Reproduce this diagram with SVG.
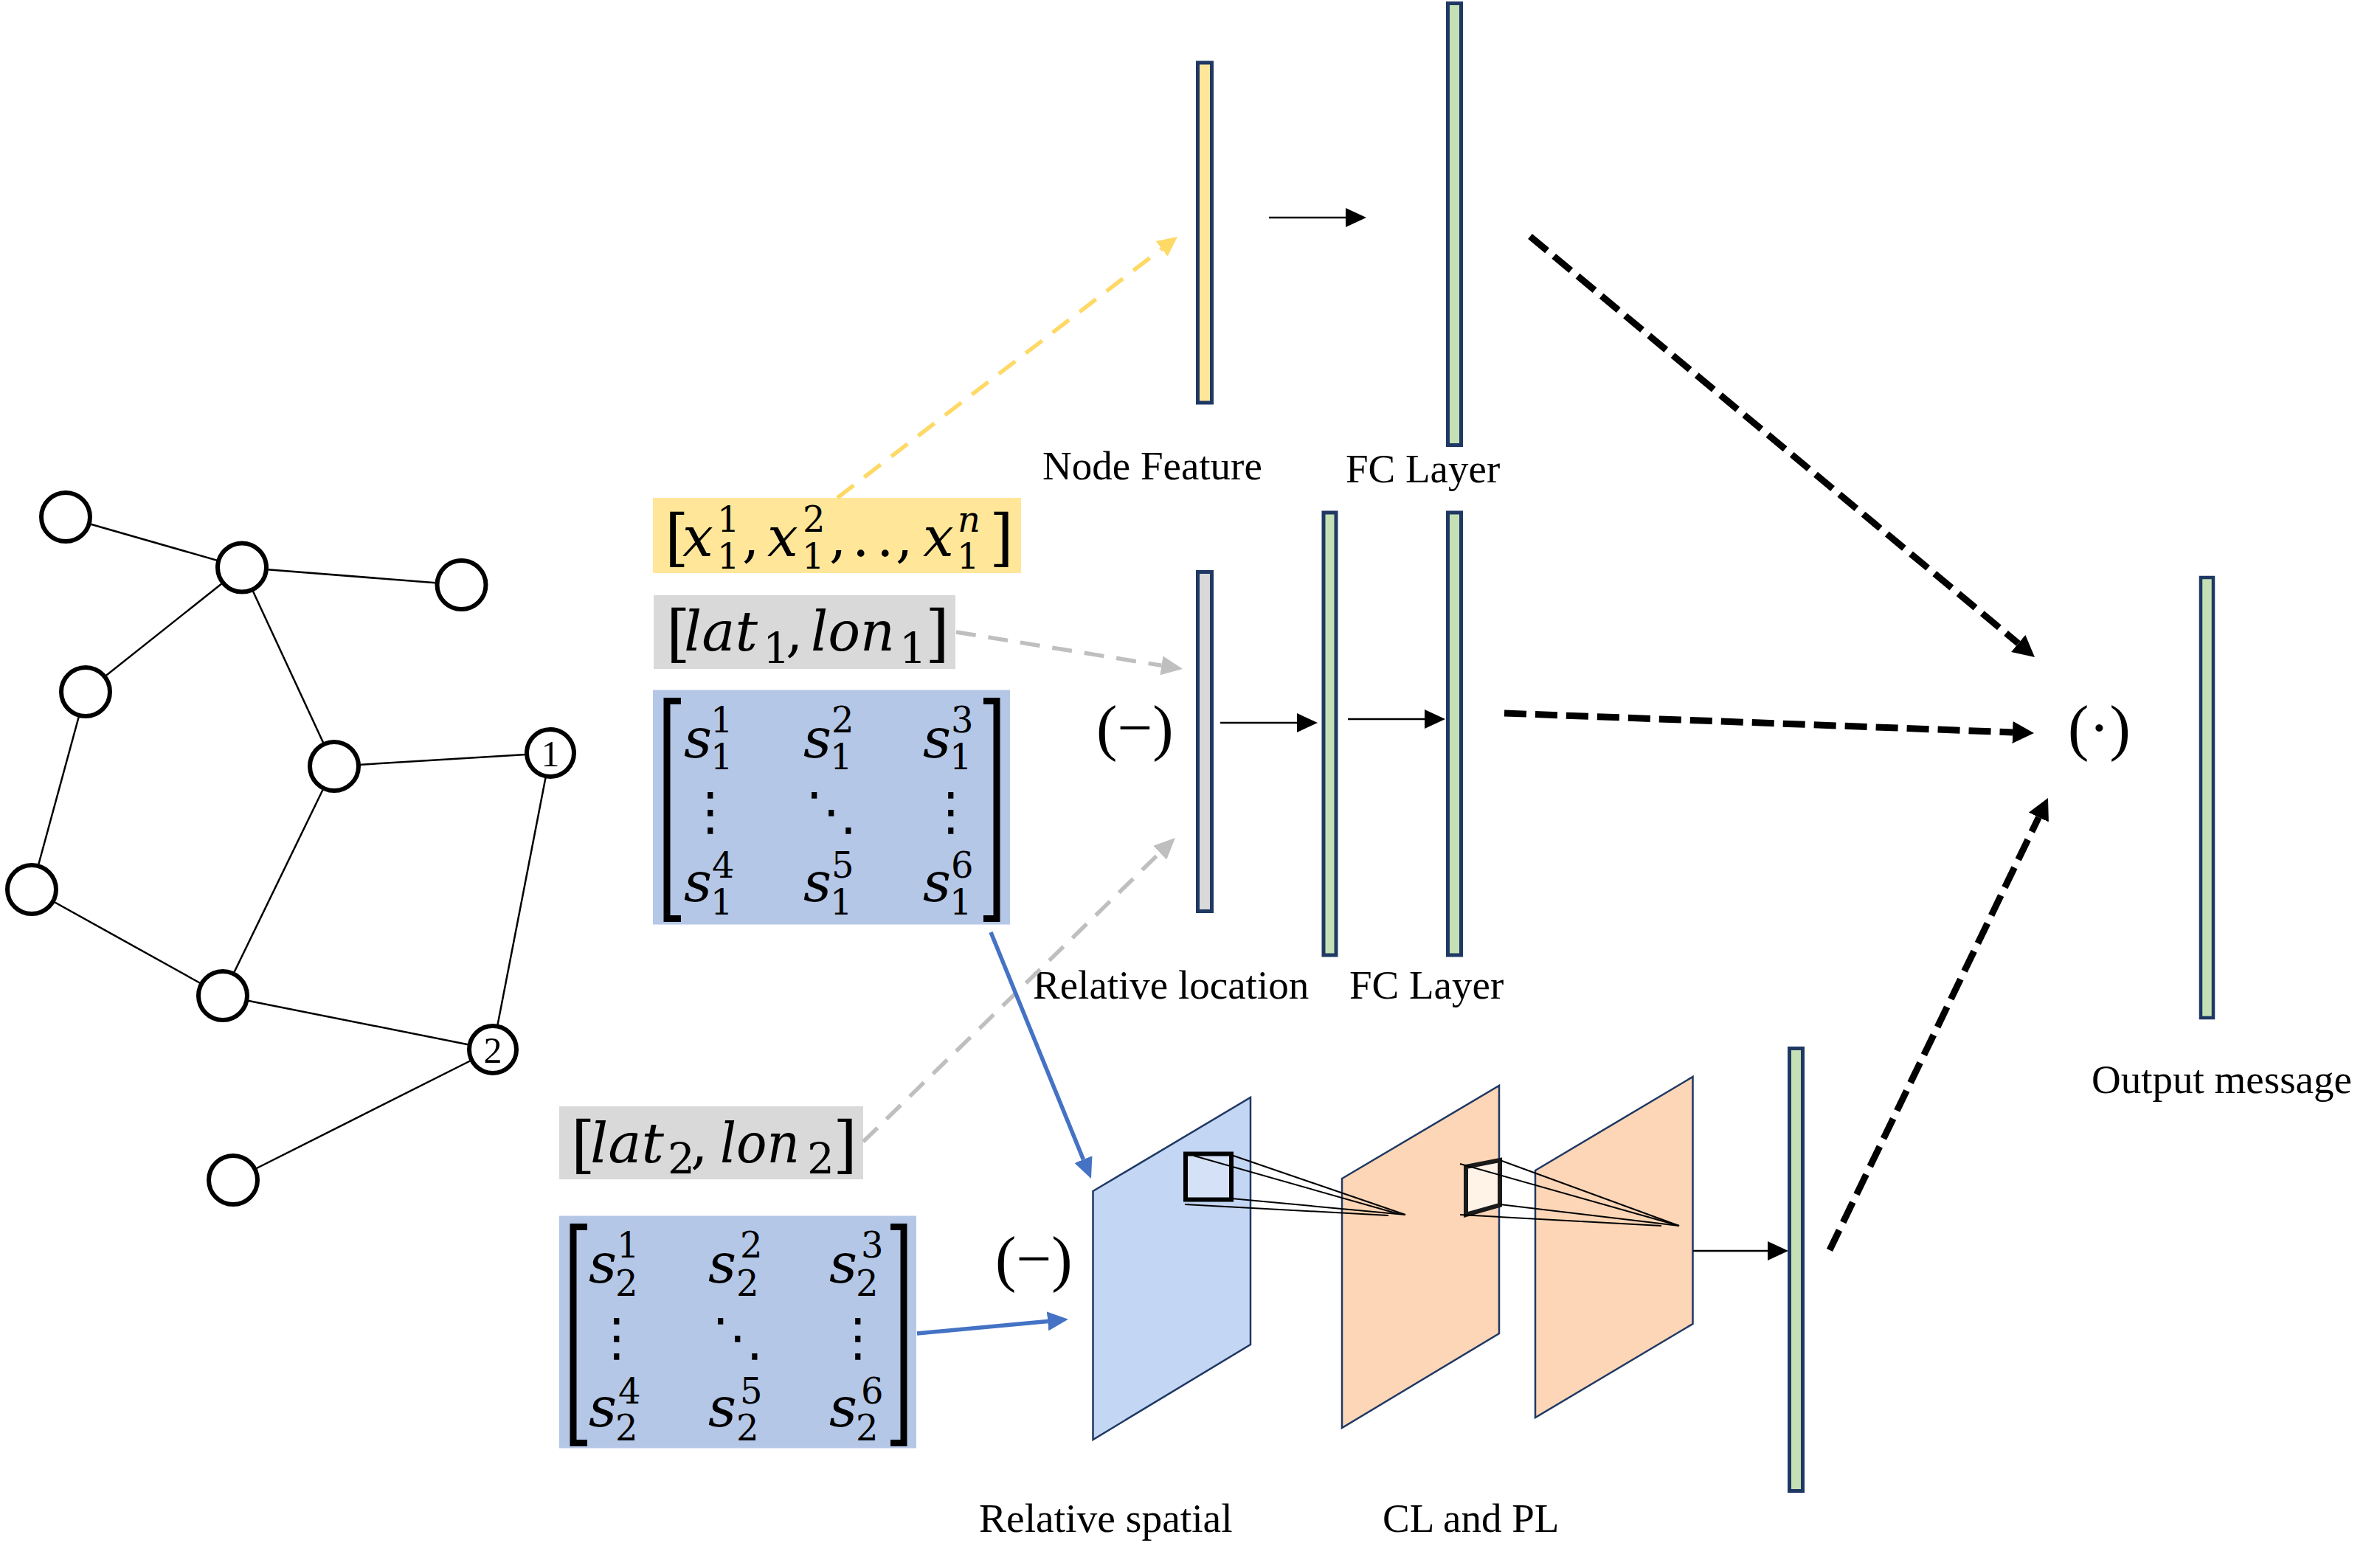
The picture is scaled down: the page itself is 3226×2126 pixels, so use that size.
<svg xmlns="http://www.w3.org/2000/svg" width="3226" height="2126" viewBox="0 0 3226 2126">
<style>
.lbl{font-family:"Liberation Serif","Times New Roman",serif;font-size:55px;fill:#000}
.op{font-family:"Liberation Serif","Times New Roman",serif;font-size:85px;fill:#000}
.m{font-family:"DejaVu Serif",serif;font-size:74px;fill:#000}
.sc{font-size:48px;font-style:normal}
.sc2{font-size:58px;font-style:normal}
.br{font-size:84px;font-style:normal}
.it,.sc.it{font-style:italic}
.dots{font-family:"DejaVu Sans",sans-serif;font-size:70px;fill:#000}
.brk{fill:none;stroke:#000;stroke-width:9}
.bar{stroke:#1F3864;stroke-width:5}
.green{fill:#C5E0B4}
.edge{stroke:#000;stroke-width:2.5}
.gn{fill:#fff;stroke:#000;stroke-width:6}
.gl{font-family:"Liberation Serif","Times New Roman",serif;font-size:50px;fill:#000;text-anchor:middle}
.plane{stroke:#1F3864;stroke-width:2.5}
.ray{stroke:#000;stroke-width:2;fill:none}
.thin{stroke:#000;stroke-width:2.5;fill:none}
.dY{stroke:#FFD966;stroke-width:5.5;stroke-dasharray:28 18;fill:none}
.dG{stroke:#BFBFBF;stroke-width:5.5;stroke-dasharray:27 17;fill:none}
.dK{stroke:#000;stroke-width:9;stroke-dasharray:30 12;fill:none}
.sB{stroke:#4472C4;stroke-width:5.5;fill:none}
</style>
<defs>
<marker id="mkThin" markerUnits="userSpaceOnUse" viewBox="0 -13 28 26" markerWidth="28" markerHeight="26" refX="0" refY="0" orient="auto"><path d="M0,-13 L28,0 L0,13 z" fill="#000"/></marker>
<marker id="mkY" markerUnits="userSpaceOnUse" viewBox="0 -13 27 26" markerWidth="27" markerHeight="26" refX="0" refY="0" orient="auto"><path d="M0,-13 L27,0 L0,13 z" fill="#FFD966"/></marker>
<marker id="mkG" markerUnits="userSpaceOnUse" viewBox="0 -13 29 26" markerWidth="29" markerHeight="26" refX="0" refY="0" orient="auto"><path d="M0,-13 L29,0 L0,13 z" fill="#BFBFBF"/></marker>
<marker id="mkB" markerUnits="userSpaceOnUse" viewBox="0 -13 28 26" markerWidth="28" markerHeight="26" refX="0" refY="0" orient="auto"><path d="M0,-13 L28,0 L0,13 z" fill="#4472C4"/></marker>
<marker id="mkK" markerUnits="userSpaceOnUse" viewBox="0 -15 29 30" markerWidth="29" markerHeight="30" refX="0" refY="0" orient="auto"><path d="M0,-15 L29,0 L0,15 z" fill="#000"/></marker>
</defs>
<rect width="3226" height="2126" fill="#fff"/>

<!-- graph edges -->
<g id="graph-edges">
<line class="edge" x1="89" y1="701" x2="328" y2="769.5"/>
<line class="edge" x1="328" y1="769.5" x2="625.5" y2="793"/>
<line class="edge" x1="328" y1="769.5" x2="116" y2="938"/>
<line class="edge" x1="328" y1="769.5" x2="453" y2="1039"/>
<line class="edge" x1="116" y1="938" x2="43" y2="1206"/>
<line class="edge" x1="43" y1="1206" x2="302" y2="1350"/>
<line class="edge" x1="453" y1="1039" x2="746" y2="1021"/>
<line class="edge" x1="453" y1="1039" x2="302" y2="1350"/>
<line class="edge" x1="746" y1="1021" x2="668" y2="1423"/>
<line class="edge" x1="302" y1="1350" x2="668" y2="1423"/>
<line class="edge" x1="668" y1="1423" x2="316" y2="1600"/>
</g>
<g id="gnode-a"><circle class="gn" cx="89" cy="701" r="33"/></g>
<g id="gnode-b"><circle class="gn" cx="328" cy="769.5" r="33"/></g>
<g id="gnode-c"><circle class="gn" cx="625.5" cy="793" r="33"/></g>
<g id="gnode-d"><circle class="gn" cx="116" cy="938" r="33"/></g>
<g id="gnode-e"><circle class="gn" cx="453" cy="1039" r="33"/></g>
<g id="gnode-1"><circle class="gn" cx="746" cy="1021" r="32"/><text class="gl" x="746" y="1039">1</text></g>
<g id="gnode-g"><circle class="gn" cx="43" cy="1206" r="33"/></g>
<g id="gnode-h"><circle class="gn" cx="302" cy="1350" r="33"/></g>
<g id="gnode-2"><circle class="gn" cx="668" cy="1423" r="32"/><text class="gl" x="668" y="1441">2</text></g>
<g id="gnode-j"><circle class="gn" cx="316" cy="1600" r="33"/></g>

<!-- input boxes -->
<g id="feat-vec">
<rect x="885" y="675" width="499" height="102" fill="#FFE699"/>
<text class="m"><tspan class="br" x="901" y="758">[</tspan><tspan class="it" x="925" y="754">x</tspan><tspan class="sc" x="972" y="721">1</tspan><tspan class="sc" x="972" y="771">1</tspan><tspan x="1006" y="754">,</tspan><tspan class="it" x="1040" y="754">x</tspan><tspan class="sc" x="1088" y="721">2</tspan><tspan class="sc" x="1087" y="771">1</tspan><tspan x="1124" y="754">,</tspan><tspan x="1155" y="754">.</tspan><tspan x="1188" y="754">.</tspan><tspan x="1214" y="754">,</tspan><tspan class="it" x="1251" y="754">x</tspan><tspan class="sc it" x="1298" y="721">n</tspan><tspan class="sc" x="1297" y="771">1</tspan><tspan class="br" x="1341" y="758">]</tspan></text>
</g>
<g id="latlon1">
<rect x="886" y="807" width="409" height="100" fill="#D9D9D9"/>
<text class="m"><tspan class="br" x="903" y="888">[</tspan><tspan class="it" x="927" y="882" textLength="100" lengthAdjust="spacingAndGlyphs">lat</tspan><tspan class="sc2" x="1034" y="899">1</tspan><tspan x="1065" y="882">,</tspan><tspan class="it" x="1099" y="882" textLength="114" lengthAdjust="spacingAndGlyphs">lon</tspan><tspan class="sc2" x="1219" y="899">1</tspan><tspan class="br" x="1254" y="888">]</tspan></text>
</g>
<g id="matrix1" transform="translate(885,935.5)">
<rect x="0" y="0" width="484" height="318" fill="#B4C7E7"/>
<polyline class="brk" points="38,15 19,15 19,310 38,310"/>
<polyline class="brk" points="448,15 466,15 466,310 448,310"/>
<text class="m"><tspan class="it" x="42" y="91">s</tspan><tspan class="sc" x="78" y="57">1</tspan><tspan class="sc" x="78" y="107">1</tspan></text>
<text class="m"><tspan class="it" x="204" y="91">s</tspan><tspan class="sc" x="242" y="57">2</tspan><tspan class="sc" x="240" y="107">1</tspan></text>
<text class="m"><tspan class="it" x="366" y="91">s</tspan><tspan class="sc" x="404" y="57">3</tspan><tspan class="sc" x="402" y="107">1</tspan></text>
<text class="dots" text-anchor="middle" x="78" y="188">⋮</text>
<text class="dots" text-anchor="middle" x="242" y="188">⋱</text>
<text class="dots" text-anchor="middle" x="404" y="188">⋮</text>
<text class="m"><tspan class="it" x="42" y="286">s</tspan><tspan class="sc" x="80" y="254">4</tspan><tspan class="sc" x="78" y="304">1</tspan></text>
<text class="m"><tspan class="it" x="204" y="286">s</tspan><tspan class="sc" x="242" y="254">5</tspan><tspan class="sc" x="240" y="304">1</tspan></text>
<text class="m"><tspan class="it" x="366" y="286">s</tspan><tspan class="sc" x="404" y="254">6</tspan><tspan class="sc" x="402" y="304">1</tspan></text>
</g>
<g id="latlon2">
<rect x="758" y="1500" width="412" height="99" fill="#D9D9D9"/>
<text class="m"><tspan class="br" x="774" y="1581">[</tspan><tspan class="it" x="800" y="1576" textLength="100" lengthAdjust="spacingAndGlyphs">lat</tspan><tspan class="sc2" x="905" y="1591">2</tspan><tspan x="936" y="1576">,</tspan><tspan class="it" x="976" y="1576" textLength="108" lengthAdjust="spacingAndGlyphs">lon</tspan><tspan class="sc2" x="1094" y="1591">2</tspan><tspan class="br" x="1129" y="1581">]</tspan></text>
</g>
<g id="matrix2" transform="translate(758,1648.5)">
<rect x="0" y="0" width="484" height="315" fill="#B4C7E7"/>
<polyline class="brk" points="38,15 19,15 19,308 38,308"/>
<polyline class="brk" points="449,15 467,15 467,308 449,308"/>
<text class="m"><tspan class="it" x="40" y="90">s</tspan><tspan class="sc" x="78" y="56">1</tspan><tspan class="sc" x="76" y="108">2</tspan></text>
<text class="m"><tspan class="it" x="202" y="90">s</tspan><tspan class="sc" x="245" y="56">2</tspan><tspan class="sc" x="240" y="108">2</tspan></text>
<text class="m"><tspan class="it" x="366" y="90">s</tspan><tspan class="sc" x="409" y="56">3</tspan><tspan class="sc" x="402" y="108">2</tspan></text>
<text class="dots" text-anchor="middle" x="78" y="188">⋮</text>
<text class="dots" text-anchor="middle" x="242" y="188">⋱</text>
<text class="dots" text-anchor="middle" x="405" y="188">⋮</text>
<text class="m"><tspan class="it" x="40" y="285">s</tspan><tspan class="sc" x="80" y="254">4</tspan><tspan class="sc" x="76" y="304">2</tspan></text>
<text class="m"><tspan class="it" x="202" y="285">s</tspan><tspan class="sc" x="245" y="254">5</tspan><tspan class="sc" x="240" y="304">2</tspan></text>
<text class="m"><tspan class="it" x="366" y="285">s</tspan><tspan class="sc" x="409" y="254">6</tspan><tspan class="sc" x="402" y="304">2</tspan></text>
</g>

<!-- vector bars -->
<g id="node-feature"><rect class="bar" x="1623.5" y="85" width="19" height="461" fill="#FFE699"/><text class="lbl" x="1413" y="650">Node Feature</text></g>
<g id="fc-top"><rect class="bar green" x="1962.5" y="4.5" width="18" height="599"/><text class="lbl" x="1824" y="654">FC Layer</text></g>
<g id="rel-loc"><rect class="bar" x="1623.5" y="775.5" width="19" height="460" fill="#D9D9D9"/><text class="lbl" x="1400" y="1354">Relative location</text></g>
<g id="minus1"><text class="op" x="1486" y="1015">(−)</text></g>
<g id="fc-mid1"><rect class="bar green" x="1794" y="695" width="17" height="600"/></g>
<g id="fc-mid2"><rect class="bar green" x="1962.5" y="695" width="18" height="600"/><text class="lbl" x="1829" y="1354">FC Layer</text></g>

<!-- CNN planes -->
<g id="rel-spatial">
<polygon class="plane" points="1481.5,1615 1695,1488 1695,1823 1481.5,1952" fill="#C3D6F3"/>
<text class="lbl" x="1327" y="2077" style="font-size:55.5px">Relative spatial</text>
</g>
<g id="cl1">
<polygon class="plane" points="1819,1598 2032,1472 2032,1808 1819,1936" fill="#FCD6B6"/>
</g>
<g id="cl2">
<polygon class="plane" points="2081,1587 2294.5,1460 2294.5,1795 2081,1922" fill="#FCD6B6"/>
<text class="lbl" x="1874" y="2077">CL and PL</text>
</g>
<g id="kernel1">
<rect x="1607" y="1564.5" width="62" height="62" fill="#D5E1F6" stroke="#000" stroke-width="6"/>
<line class="ray" x1="1618" y1="1567" x2="1896" y2="1646"/>
<line class="ray" x1="1669" y1="1566" x2="1905" y2="1647"/>
<line class="ray" x1="1669" y1="1625" x2="1905" y2="1647"/>
<line class="ray" x1="1606" y1="1633" x2="1882" y2="1648"/>
</g>
<g id="kernel2">
<polygon points="1987,1582 2033,1573 2033,1634 1987,1647" fill="#FFF3E8" stroke="#1a1a1a" stroke-width="6"/>
<line class="ray" x1="1979" y1="1578" x2="2276" y2="1662"/>
<line class="ray" x1="2033" y1="1573" x2="2276" y2="1662"/>
<line class="ray" x1="2033" y1="1633" x2="2276" y2="1662"/>
<line class="ray" x1="1979" y1="1647" x2="2252" y2="1662"/>
</g>
<g id="minus2"><text class="op" x="1349" y="1735">(−)</text></g>
<g id="fc-bottom"><rect class="bar green" x="2425.5" y="1421.5" width="18" height="600"/></g>

<!-- output -->
<g id="dot-op"><text class="op" x="2803" y="1015">(·)</text></g>
<g id="output"><rect class="bar green" x="2983" y="783" width="17" height="597" style="stroke-width:4.5"/><text class="lbl" x="2835" y="1482">Output message</text></g>

<!-- connectors -->
<g id="connectors">
<line class="thin" x1="1720" y1="295" x2="1824" y2="295" marker-end="url(#mkThin)"/>
<line class="thin" x1="1654" y1="980" x2="1758" y2="980" marker-end="url(#mkThin)"/>
<line class="thin" x1="1827" y1="975" x2="1931" y2="975" marker-end="url(#mkThin)"/>
<line class="thin" x1="2295" y1="1696" x2="2396" y2="1696" marker-end="url(#mkThin)"/>
<line class="dY" x1="1135" y1="675" x2="1574.6" y2="337.4" marker-end="url(#mkY)"/>
<line class="dG" x1="1296" y1="857" x2="1574.4" y2="902.3" marker-end="url(#mkG)"/>
<line class="dG" x1="1170" y1="1548" x2="1572.2" y2="1156.2" marker-end="url(#mkG)"/>
<line class="sB" x1="1343" y1="1264" x2="1468.4" y2="1572.1" marker-end="url(#mkB)"/>
<line class="sB" x1="1243" y1="1808" x2="1420.1" y2="1791.4" marker-end="url(#mkB)"/>
<line class="dK" x1="2074" y1="320.5" x2="2735.7" y2="872.4" marker-end="url(#mkK)"/>
<line class="dK" x1="2039" y1="967" x2="2728" y2="992.9" marker-end="url(#mkK)"/>
<line class="dK" x1="2480" y1="1695" x2="2763.4" y2="1108.1" marker-end="url(#mkK)"/>
</g>
</svg>
